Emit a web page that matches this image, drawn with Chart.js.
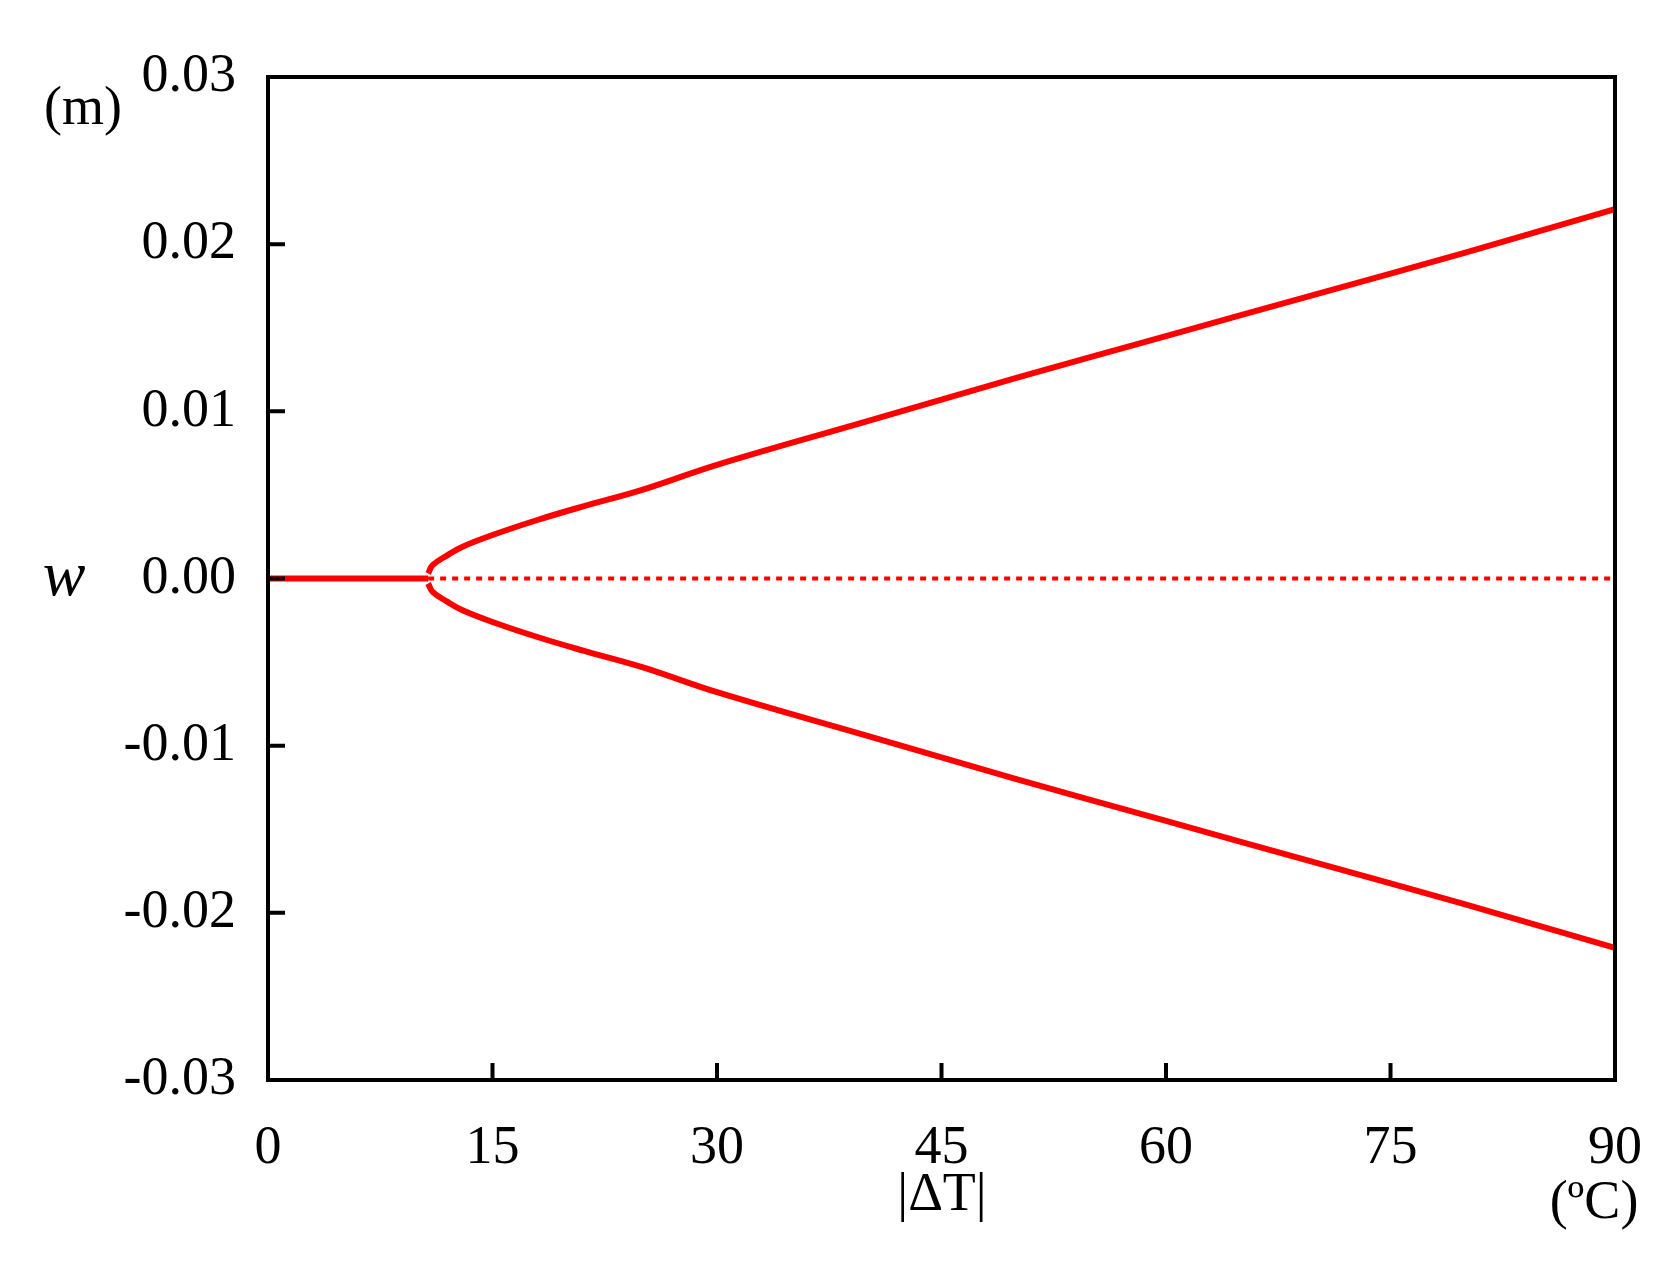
<!DOCTYPE html>
<html>
<head>
<meta charset="utf-8">
<script src="https://cdn.jsdelivr.net/npm/chart.js@4"></script>
<style>
body { margin: 0; background: #fff; }
#wrap { width: 1676px; height: 1262px; }
</style>
</head>
<body>
<div id="wrap"><canvas id="c"></canvas></div>
<script>
var upperX = [10.7, 11, 12, 13, 15, 18, 21, 25, 30, 40, 50, 60, 70, 80, 90];
var upperY = [0.0003, 0.0008, 0.0014, 0.0019, 0.0026, 0.0035, 0.0043, 0.0053, 0.0068, 0.0094, 0.0120, 0.0145, 0.0170, 0.0195, 0.0221];
var trivialX = [0, 10.7];
var unstableX = [10.7, 90];
var xTicks = [0, 15, 30, 45, 60, 75, 90];
var yTicks = [-0.03, -0.02, -0.01, 0, 0.01, 0.02, 0.03];

function pts(xs, ys) { return xs.map(function (x, i) { return { x: x, y: ys[i] }; }); }

var serif = "'Liberation Serif', 'DejaVu Serif', serif";

var frame = {
    id: "frame",
    afterDraw: function (chart) {
        var c = chart.ctx, a = chart.chartArea, xs = chart.scales.x, ys = chart.scales.y;
        c.save();
        c.strokeStyle = "#000";
        c.lineWidth = 4;
        c.strokeRect(a.left, a.top, a.right - a.left, a.bottom - a.top);
        c.beginPath();
        xTicks.forEach(function (v) {
            var px = xs.getPixelForValue(v);
            c.moveTo(px, a.bottom); c.lineTo(px, a.bottom - 17);
        });
        yTicks.forEach(function (v) {
            var py = ys.getPixelForValue(v);
            c.moveTo(a.left, py); c.lineTo(a.left + 17, py);
        });
        c.stroke();
        c.fillStyle = "#000";
        c.textAlign = "center";
        c.textBaseline = "middle";
        c.font = "54px " + serif;
        c.fillText("(m)", 83, 110);
        c.fillText("|\u0394T|", 942, 1196);
        c.fillText("(\u00baC)", 1594, 1204);
        c.font = "italic 64px " + serif;
        c.fillText("w", 64, 578);
        c.restore();
    }
};

var ctx = document.getElementById("c");
new Chart(ctx, {
    type: "scatter",
    data: {
        datasets: [
            { data: pts(upperX, upperY), showLine: true, tension: 0.4, borderColor: "#ff0000", borderWidth: 6, pointRadius: 0 },
            { data: pts(upperX, upperY.map(function (v) { return -v; })), showLine: true, tension: 0.4, borderColor: "#ff0000", borderWidth: 6, pointRadius: 0 },
            { data: pts(trivialX, [0, 0]), showLine: true, borderColor: "#ff0000", borderWidth: 6, pointRadius: 0 },
            { data: pts(unstableX, [0, 0]), showLine: true, borderColor: "#ff0000", borderWidth: 4, borderDash: [6, 6], pointRadius: 0 }
        ]
    },
    plugins: [frame],
    options: {
        responsive: true,
        maintainAspectRatio: false,
        animation: false,
        layout: { padding: { top: 77, right: 61, left: 0, bottom: 0 } },
        plugins: { legend: { display: false }, tooltip: { enabled: false } },
        scales: {
            x: {
                type: "linear", min: 0, max: 90,
                afterBuildTicks: function (s) { s.ticks = xTicks.map(function (v) { return { value: v }; }); },
                afterFit: function (s) { s.height = 182; },
                grid: { display: false }, border: { display: false },
                ticks: { color: "#000", padding: 28, maxRotation: 0, font: { family: serif, size: 54 } }
            },
            y: {
                min: -0.03, max: 0.03,
                afterBuildTicks: function (s) { s.ticks = yTicks.map(function (v) { return { value: v }; }); },
                afterFit: function (s) { s.width = 268; },
                grid: { display: false }, border: { display: false },
                ticks: { color: "#000", padding: 24, font: { family: serif, size: 54 },
                    callback: function (v) { return v.toFixed(2); } }
            }
        }
    }
});
</script>
</body>
</html>
